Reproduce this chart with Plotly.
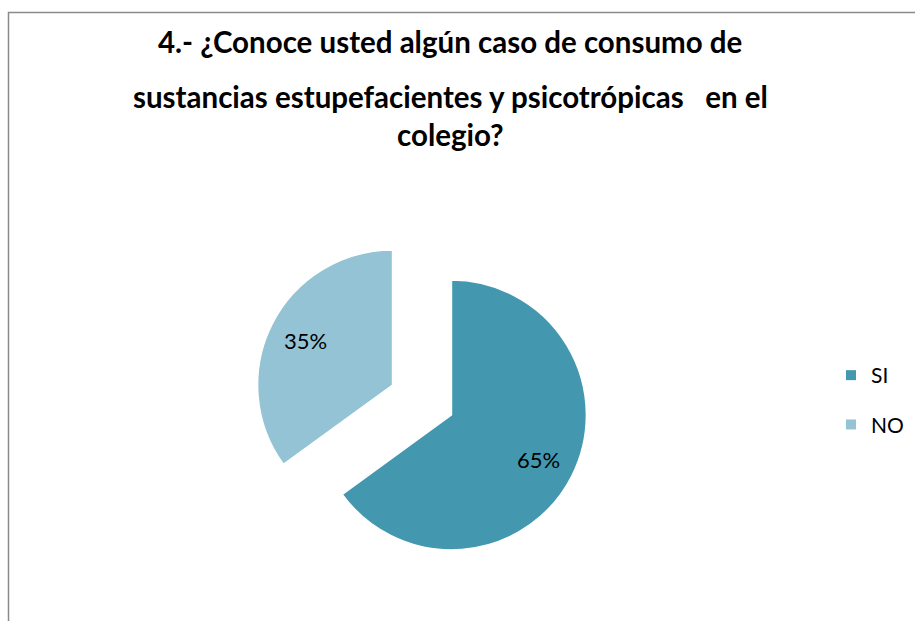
import math
import plotly.graph_objects as go

categories = ["SI", "NO"]
values = [65, 35]
colors = ["#4398B0", "#93C3D4"]
title_lines = [
    "4.- ¿Conoce usted algún caso de consumo de",
    "sustancias estupefacientes y psicotrópicas&nbsp;&nbsp; en el",
    "colegio?",
]

W, H = 915, 621
FONT = "Lato"
PULL = 0.245
# pie box in pixels
PX0, PX1, PY0, PY1 = 254, 590, 232, 568

fig = go.Figure()
fig.add_trace(go.Pie(
    labels=categories,
    values=values,
    sort=False,
    direction="clockwise",
    rotation=0,
    pull=[PULL] * len(values),
    marker=dict(colors=colors, line=dict(color="white", width=1.5)),
    textinfo="none",
    domain=dict(x=[PX0 / W, PX1 / W], y=[1 - PY1 / H, 1 - PY0 / H]),
    showlegend=False,
    hoverinfo="label+percent",
))

# percentage labels placed along each slice's bisector (Excel-like "best fit")
cx, cy = (PX0 + PX1) / 2, (PY0 + PY1) / 2
r = (PX1 - PX0) / (2 * (1 + PULL))
total = sum(values)
start = 0.0
annotations = []
for v in values:
    frac = v / total
    mid = (start + frac / 2) * 2 * math.pi
    dx, dy = math.sin(mid), -math.cos(mid)
    d = r * (PULL + 0.72)
    lx, ly = cx + dx * d, cy + dy * d
    annotations.append(dict(
        text=f"{round(frac * 100)}%", x=lx / W, y=1 - ly / H,
        xref="paper", yref="paper", showarrow=False,
        xanchor="center", yanchor="middle",
        font=dict(family=FONT, size=22, color="black")))
    start += frac

# legend entries (one group each to control spacing)
for c, col in zip(categories, colors):
    fig.add_trace(go.Scatter(
        x=[None], y=[None], mode="markers", name=c,
        marker=dict(symbol="square", size=10, color=col),
        legendgroup=c, showlegend=True,
    ))

ys = [42, 96, 135]
annotations += [
    dict(text=t, x=450 / W, y=1 - y / H, xref="paper", yref="paper",
         showarrow=False, xanchor="center", yanchor="middle",
         font=dict(family=FONT, size=29.5, color="black", weight="bold"))
    for t, y in zip(title_lines, ys)
]

fig.update_layout(
    width=W, height=H,
    margin=dict(l=0, r=0, t=0, b=0),
    paper_bgcolor="white", plot_bgcolor="white",
    xaxis=dict(visible=False), yaxis=dict(visible=False),
    annotations=annotations,
    legend=dict(
        x=831 / W, y=1 - 400 / H, xanchor="left", yanchor="middle",
        traceorder="grouped", tracegroupgap=19,
        font=dict(family=FONT, size=21, color="black"),
        itemsizing="trace",
        bgcolor="rgba(0,0,0,0)",
    ),
    shapes=[dict(type="rect", xref="paper", yref="paper",
                 x0=8.5 / W, x1=1.05, y0=-0.05, y1=1 - 12.5 / H,
                 line=dict(color="#8a8a8a", width=1.5), layer="below")],
)

fig.write_html("out.html",
               config=dict(displayModeBar=False),
               post_script="document.body.style.margin='0';document.body.style.overflow='hidden';")
